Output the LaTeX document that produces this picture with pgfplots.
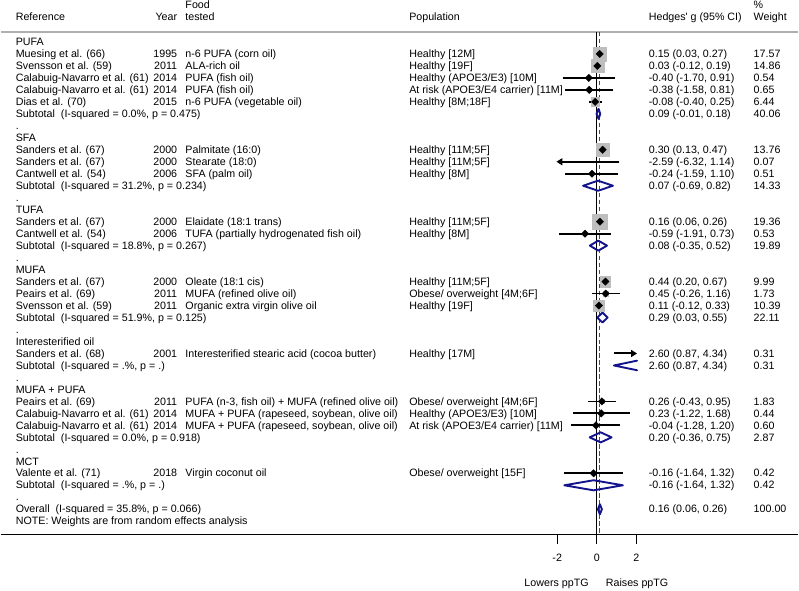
\documentclass[border=0pt]{standalone}
\usepackage{fontspec}
\setmainfont{Liberation Sans}
\usepackage{pgfplots}
\pgfplotsset{compat=1.18}
\usepackage{pgfplotstable}
\usetikzlibrary{arrows.meta}

\definecolor{boxgray}{RGB}{190,190,190}
\definecolor{hdrgray}{RGB}{175,175,175}
\definecolor{dblue}{RGB}{20,20,140}
\definecolor{dred}{RGB}{175,30,60}

% studies whose estimate lies inside the plotted range
% row = line of the table, g = Hedges' g, lo/hi = 95% CI, w = % weight
\pgfplotstableread{
row g lo hi w
1 0.15 0.03 0.27 17.57
2 0.03 -0.12 0.19 14.86
3 -0.40 -1.70 0.91 0.54
4 -0.38 -1.58 0.81 0.65
5 -0.08 -0.40 0.25 6.44
9 0.30 0.13 0.47 13.76
11 -0.24 -1.59 1.10 0.51
15 0.16 0.06 0.26 19.36
16 -0.59 -1.91 0.73 0.53
20 0.44 0.20 0.67 9.99
21 0.45 -0.26 1.16 1.73
22 0.11 -0.12 0.33 10.39
30 0.26 -0.43 0.95 1.83
31 0.23 -1.22 1.68 0.44
32 -0.04 -1.28 1.20 0.60
36 -0.16 -1.64 1.32 0.42
}\studies

% text columns (axis x units)
\def\xref{-29.39}
\def\xyear{-21.21}
\def\xfood{-20.81}
\def\xpop{-9.49}
\def\xes{2.626}
\def\xwt{7.93}

\newcommand\txt[3]{\node[anchor=base west,inner sep=0pt,yshift=-3.7bp] at (axis cs:#1,#2) {#3};}
\newcommand\study[7]{%
  \txt{\xref}{#1}{#2}%
  \node[anchor=base east,inner sep=0pt,yshift=-3.7bp] at (axis cs:\xyear,#1) {#3};%
  \txt{\xfood}{#1}{#4}%
  \txt{\xpop}{#1}{#5}%
  \txt{\xes}{#1}{#6}%
  \txt{\xwt}{#1}{#7}}
\newcommand\pool[4]{\txt{\xref}{#1}{#2}\txt{\xes}{#1}{#3}\txt{\xwt}{#1}{#4}}

\begin{document}
\fontsize{10.7bp}{12bp}\selectfont
\begin{tikzpicture}
\begin{axis}[
    width=799bp, height=535bp, scale only axis,
    xmin=-30.15, xmax=10.20,
    ymin=-3.5, ymax=41.083,
    y dir=reverse,
    axis lines=none,
    clip=false,
]
% rules
\draw[hdrgray, line width=1.2bp] (axis cs:-30.15,-0.833) -- (axis cs:10.20,-0.833);
\draw[black, line width=1bp] (axis cs:-30.15,41.083) -- (axis cs:10.20,41.083);
\draw[line width=1bp] (axis cs:-2,41.083) -- (axis cs:-2,41.917);
\draw[line width=1bp] (axis cs:0,41.083) -- (axis cs:0,41.917);
\draw[line width=1bp] (axis cs:2,41.083) -- (axis cs:2,41.917);
\node[anchor=base,inner sep=0pt,yshift=-27.6bp] at (axis cs:-2,41.083) {-2};
\node[anchor=base,inner sep=0pt,yshift=-27.6bp] at (axis cs:0,41.083) {0};
\node[anchor=base,inner sep=0pt,yshift=-27.6bp] at (axis cs:2,41.083) {2};
\node[anchor=base east,inner sep=0pt,yshift=-52.7bp] at (axis cs:-0.40,41.083) {Lowers ppTG};
\node[anchor=base west,inner sep=0pt,yshift=-52.7bp] at (axis cs:0.455,41.083) {Raises ppTG};

% weight boxes, area proportional to the weight
% (use mapped color must come first: it replaces @pre marker code)
\addplot[scatter, only marks, mark=square*,
    point meta=\thisrow{w},
    scatter/use mapped color={draw=boxgray, fill=boxgray},
    visualization depends on={1.67*sqrt(\thisrow{w}) \as \perpointmarksize},
    scatter/@pre marker code/.append style={/tikz/mark size=\perpointmarksize}]
    table[x=g, y=row] {\studies};

% null line and overall estimate
\addplot[black, line width=1.3bp] coordinates {(0,-0.833) (0,41.083)};
\addplot[dred, line width=1.2bp, dash pattern=on 4.5bp off 2.5bp] coordinates {(0.16,-0.833) (0.16,41.083)};

% confidence intervals
\addplot[only marks, mark=none, black,
    error bars/.cd, x dir=both, x explicit, error mark=none,
    error bar style={line width=1.8bp, black}]
    table[x=g, y=row, x error plus expr=\thisrow{hi}-\thisrow{g},
          x error minus expr=\thisrow{g}-\thisrow{lo}] {\studies};
% intervals running off the plotted range
\addplot[black, line width=2bp, -{Triangle[length=6bp,width=7bp]}] coordinates {(1.14,10) (-2.04,10)};
\addplot[black, line width=2bp, -{Triangle[length=6bp,width=7bp]}] coordinates {(0.87,26) (2.04,26)};

% point estimates
\addplot[only marks, mark=square*, mark size=2.6bp, mark options={rotate=45, fill=black, draw=black}]
    table[x=g, y=row] {\studies};

% pooled estimates
\pgfplotsset{pooled/.style={dblue, line width=1.9bp, line join=round, line cap=round}}
\addplot[pooled] coordinates {(-0.01,6) (0.09,5.58) (0.18,6) (0.09,6.42) (-0.01,6)};
\addplot[pooled] coordinates {(-0.69,12) (0.07,11.58) (0.82,12) (0.07,12.42) (-0.69,12)};
\addplot[pooled] coordinates {(-0.35,17) (0.08,16.58) (0.52,17) (0.08,17.42) (-0.35,17)};
\addplot[pooled] coordinates {(0.03,23) (0.29,22.58) (0.55,23) (0.29,23.42) (0.03,23)};
\addplot[pooled] coordinates {(2.04,26.6) (0.87,27) (2.04,27.4)};
\addplot[pooled] coordinates {(-0.36,33) (0.20,32.58) (0.75,33) (0.20,33.42) (-0.36,33)};
\addplot[pooled] coordinates {(-1.64,37) (-0.16,36.58) (1.32,37) (-0.16,37.42) (-1.64,37)};
\addplot[pooled] coordinates {(0.06,39) (0.16,38.58) (0.26,39) (0.16,39.42) (0.06,39)};

% header
\txt{\xref}{-2.083}{Reference}
\node[anchor=base east,inner sep=0pt,yshift=-3.7bp] at (axis cs:\xyear,-2.083) {Year};
\txt{\xfood}{-3.083}{Food}
\txt{\xfood}{-2.083}{tested}
\txt{\xpop}{-2.083}{Population}
\txt{\xes}{-2.083}{Hedges\textquotesingle\ g (95\% CI)}
\txt{\xwt}{-3.083}{\%}
\txt{\xwt}{-2.083}{Weight}

% table body
\txt{\xref}{0}{PUFA}
\study{1}{Muesing et al. (66)}{1995}{n-6 PUFA (corn oil)}{Healthy [12M]}{0.15 (0.03, 0.27)}{17.57}
\study{2}{Svensson et al. (59)}{2011}{ALA-rich oil}{Healthy [19F]}{0.03 (-0.12, 0.19)}{14.86}
\study{3}{Calabuig-Navarro et al. (61)}{2014}{PUFA (fish oil)}{Healthy (APOE3/E3) [10M]}{-0.40 (-1.70, 0.91)}{0.54}
\study{4}{Calabuig-Navarro et al. (61)}{2014}{PUFA (fish oil)}{At risk (APOE3/E4 carrier) [11M]}{-0.38 (-1.58, 0.81)}{0.65}
\study{5}{Dias et al. (70)}{2015}{n-6 PUFA (vegetable oil)}{Healthy [8M;18F]}{-0.08 (-0.40, 0.25)}{6.44}
\pool{6}{Subtotal\ \ (I-squared = 0.0\%, p = 0.475)}{0.09 (-0.01, 0.18)}{40.06}
\txt{\xref}{7}{.}
\txt{\xref}{8}{SFA}
\study{9}{Sanders et al. (67)}{2000}{Palmitate (16:0)}{Healthy [11M;5F]}{0.30 (0.13, 0.47)}{13.76}
\study{10}{Sanders et al. (67)}{2000}{Stearate (18:0)}{Healthy [11M;5F]}{-2.59 (-6.32, 1.14)}{0.07}
\study{11}{Cantwell et al. (54)}{2006}{SFA (palm oil)}{Healthy [8M]}{-0.24 (-1.59, 1.10)}{0.51}
\pool{12}{Subtotal\ \ (I-squared = 31.2\%, p = 0.234)}{0.07 (-0.69, 0.82)}{14.33}
\txt{\xref}{13}{.}
\txt{\xref}{14}{TUFA}
\study{15}{Sanders et al. (67)}{2000}{Elaidate (18:1 trans)}{Healthy [11M;5F]}{0.16 (0.06, 0.26)}{19.36}
\study{16}{Cantwell et al. (54)}{2006}{TUFA (partially hydrogenated fish oil)}{Healthy [8M]}{-0.59 (-1.91, 0.73)}{0.53}
\pool{17}{Subtotal\ \ (I-squared = 18.8\%, p = 0.267)}{0.08 (-0.35, 0.52)}{19.89}
\txt{\xref}{18}{.}
\txt{\xref}{19}{MUFA}
\study{20}{Sanders et al. (67)}{2000}{Oleate (18:1 cis)}{Healthy [11M;5F]}{0.44 (0.20, 0.67)}{9.99}
\study{21}{Peairs et al. (69)}{2011}{MUFA (refined olive oil)}{Obese/ overweight [4M;6F]}{0.45 (-0.26, 1.16)}{1.73}
\study{22}{Svensson et al. (59)}{2011}{Organic extra virgin olive oil}{Healthy [19F]}{0.11 (-0.12, 0.33)}{10.39}
\pool{23}{Subtotal\ \ (I-squared = 51.9\%, p = 0.125)}{0.29 (0.03, 0.55)}{22.11}
\txt{\xref}{24}{.}
\txt{\xref}{25}{Interesterified oil}
\study{26}{Sanders et al. (68)}{2001}{Interesterified stearic acid (cocoa butter)}{Healthy [17M]}{2.60 (0.87, 4.34)}{0.31}
\pool{27}{Subtotal\ \ (I-squared = .\%, p = .)}{2.60 (0.87, 4.34)}{0.31}
\txt{\xref}{28}{.}
\txt{\xref}{29}{MUFA + PUFA}
\study{30}{Peairs et al. (69)}{2011}{PUFA (n-3, fish oil) + MUFA (refined olive oil)}{Obese/ overweight [4M;6F]}{0.26 (-0.43, 0.95)}{1.83}
\study{31}{Calabuig-Navarro et al. (61)}{2014}{MUFA + PUFA (rapeseed, soybean, olive oil)}{Healthy (APOE3/E3) [10M]}{0.23 (-1.22, 1.68)}{0.44}
\study{32}{Calabuig-Navarro et al. (61)}{2014}{MUFA + PUFA (rapeseed, soybean, olive oil)}{At risk (APOE3/E4 carrier) [11M]}{-0.04 (-1.28, 1.20)}{0.60}
\pool{33}{Subtotal\ \ (I-squared = 0.0\%, p = 0.918)}{0.20 (-0.36, 0.75)}{2.87}
\txt{\xref}{34}{.}
\txt{\xref}{35}{MCT}
\study{36}{Valente et al. (71)}{2018}{Virgin coconut oil}{Obese/ overweight [15F]}{-0.16 (-1.64, 1.32)}{0.42}
\pool{37}{Subtotal\ \ (I-squared = .\%, p = .)}{-0.16 (-1.64, 1.32)}{0.42}
\txt{\xref}{38}{.}
\pool{39}{Overall\ \ (I-squared = 35.8\%, p = 0.066)}{0.16 (0.06, 0.26)}{100.00}
\txt{\xref}{40}{NOTE: Weights are from random effects analysis}

% keep the page as tall as the reference
\path (axis cs:-30.15,45.75) (axis cs:10.20,-3.5);
\end{axis}
\end{tikzpicture}
\end{document}
